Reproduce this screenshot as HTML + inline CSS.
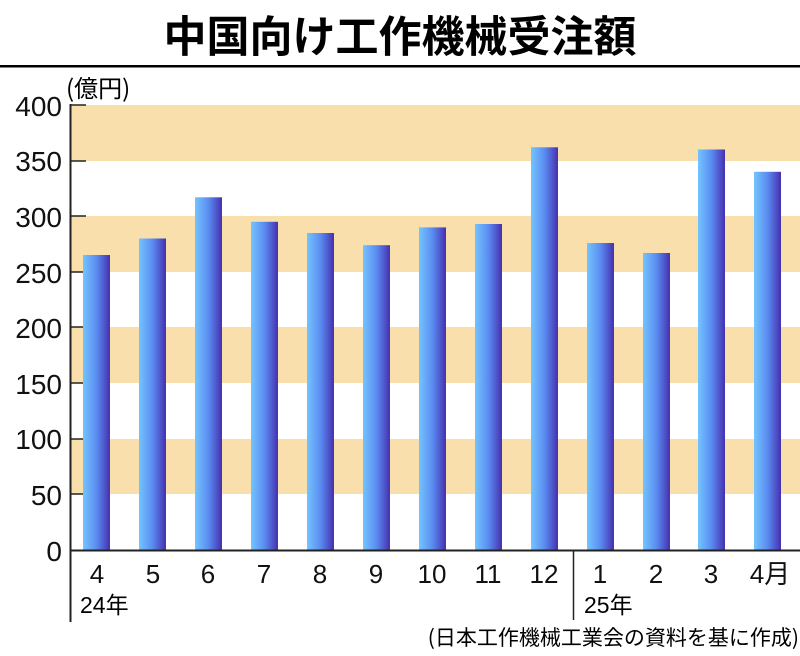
<!DOCTYPE html><html><head><meta charset="utf-8"><style>body{margin:0;background:#fff}</style></head><body>
<svg width="800" height="651" xmlns="http://www.w3.org/2000/svg" font-family="Liberation Sans, Noto Sans CJK JP, sans-serif">
<defs><linearGradient id="g" x1="0" x2="1"><stop offset="0" stop-color="#74c4ff"/><stop offset="0.5" stop-color="#5a8cf0"/><stop offset="1" stop-color="#4630b0"/></linearGradient></defs>
<text x="400" y="52" font-size="43" font-weight="bold" text-anchor="middle" font-family="Noto Sans CJK JP, sans-serif">中国向け工作機械受注額</text>
<rect x="0" y="65" width="800" height="2.5" fill="#000"/>
<text x="66" y="97" font-size="24" font-family="Noto Sans CJK JP, sans-serif">(億円)</text>
<g fill="#f8dfab">
<rect x="70" y="105" width="730" height="56"/><rect x="70" y="216" width="730" height="56"/><rect x="70" y="327" width="730" height="56"/><rect x="70" y="439" width="730" height="55"/></g>
<g font-size="28" text-anchor="end" fill="#111">
<text x="62" y="116">400</text><text x="62" y="171">350</text><text x="62" y="227">300</text><text x="62" y="283">250</text><text x="62" y="338">200</text><text x="62" y="394">150</text><text x="62" y="449">100</text><text x="62" y="505">50</text><text x="62" y="561">0</text></g>
<g stroke="#222" stroke-width="1.5">
<line x1="70" y1="105" x2="86" y2="105"/><line x1="70" y1="161" x2="86" y2="161"/><line x1="70" y1="216" x2="86" y2="216"/><line x1="70" y1="272" x2="86" y2="272"/><line x1="70" y1="327" x2="86" y2="327"/><line x1="70" y1="383" x2="86" y2="383"/><line x1="70" y1="439" x2="86" y2="439"/><line x1="70" y1="494" x2="86" y2="494"/></g>
<g fill="url(#g)">
<rect x="83" y="255" width="27" height="295"/><rect x="139" y="238.5" width="27" height="311.5"/><rect x="195" y="197.3" width="27" height="352.7"/><rect x="251" y="221.8" width="27" height="328.2"/><rect x="307" y="233" width="27" height="317"/><rect x="363" y="245.2" width="27" height="304.8"/><rect x="419" y="227.4" width="27" height="322.6"/><rect x="475" y="224" width="27" height="326"/><rect x="531" y="147.3" width="27" height="402.7"/><rect x="587" y="243" width="27" height="307"/><rect x="643" y="253" width="27" height="297"/><rect x="698" y="149.5" width="27" height="400.5"/><rect x="754" y="171.8" width="27" height="378.2"/></g>
<line x1="70.5" y1="104" x2="70.5" y2="622" stroke="#222" stroke-width="2"/>
<line x1="70" y1="550.5" x2="800" y2="550.5" stroke="#222" stroke-width="2"/>
<line x1="573.5" y1="550" x2="573.5" y2="620" stroke="#222" stroke-width="1.5"/>
<g font-size="26" text-anchor="middle" fill="#111">
<text x="97" y="583">4</text><text x="153" y="583">5</text><text x="208" y="583">6</text><text x="264" y="583">7</text><text x="320" y="583">8</text><text x="376" y="583">9</text><text x="432" y="583">10</text><text x="488" y="583">11</text><text x="544" y="583">12</text><text x="600" y="583">1</text><text x="656" y="583">2</text><text x="711" y="583">3</text><text x="770" y="583">4月</text></g>
<text x="80" y="613" font-size="23">24年</text>
<text x="584" y="613" font-size="23">25年</text>
<text x="799" y="645" font-size="21" text-anchor="end" font-family="Noto Sans CJK JP, sans-serif">(日本工作機械工業会の資料を基に作成)</text>
</svg></body></html>
